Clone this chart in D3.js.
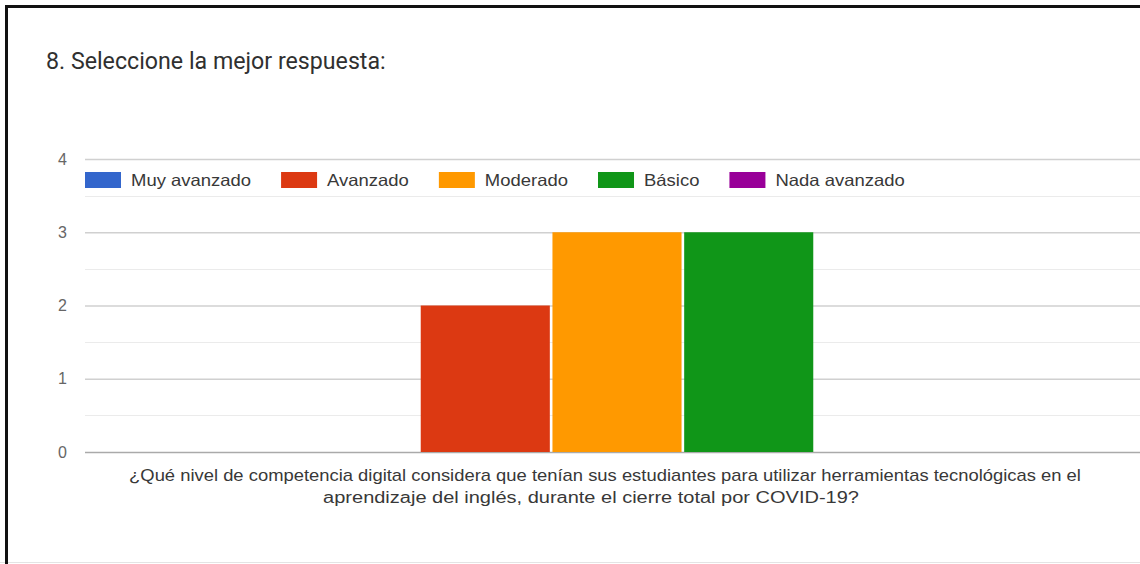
<!DOCTYPE html>
<html>
<head>
<meta charset="utf-8">
<script src="https://cdn.jsdelivr.net/npm/d3@7"></script>
<style>
  html, body { margin: 0; padding: 0; background: #fff; }
  svg { display: block; }
</style>
</head>
<body>
<svg id="chart" width="1140" height="564"></svg>
<script>
// Survey question 8: answer counts per competence level
const chartTitle = "8. Seleccione la mejor respuesta:";
const categories = ["¿Qué nivel de competencia digital considera que tenían sus estudiantes para utilizar herramientas tecnológicas en el aprendizaje del inglés, durante el cierre total por COVID-19?"];
const categoryLines = [
  "¿Qué nivel de competencia digital considera que tenían sus estudiantes para utilizar herramientas tecnológicas en el",
  "aprendizaje del inglés, durante el cierre total por COVID-19?"
];
const seriesNames = ["Muy avanzado", "Avanzado", "Moderado", "Básico", "Nada avanzado"];
const seriesValues = [0, 2, 3, 3, 0];
const seriesColors = ["#3366cc", "#dc3912", "#ff9900", "#109618", "#990099"];
const yTicks = [0, 1, 2, 3, 4];

const svg = d3.select("#chart");
const W = 1140, H = 564;
const font = "'Liberation Sans', Arial, sans-serif";
const stretch = 1.12; // horizontal widening of the text glyphs

svg.append("rect").attr("width", W).attr("height", H).attr("fill", "#fff");

// card frame (left and top edges, plus faint bottom edge)
svg.append("line").attr("x1", 0).attr("x2", W).attr("y1", H - 1.5).attr("y2", H - 1.5)
  .attr("stroke", "#e4e4e4").attr("stroke-width", 1);
svg.append("path")
  .attr("d", `M6.5,${H} L6.5,6.5 L${W + 5},6.5`)
  .attr("fill", "none").attr("stroke", "#111").attr("stroke-width", 3);

// title
svg.append("text")
  .attr("x", 46).attr("y", 69)
  .attr("font-family", "Roboto, 'Liberation Sans', Arial, sans-serif")
  .attr("font-size", 23.2)
  .attr("fill", "#303030")
  .text(chartTitle);

const plot = { left: 85, right: 1149, top: 159, bottom: 452 };

const y = d3.scaleLinear().domain([0, 4]).range([plot.bottom, plot.top]);

const x0 = d3.scaleBand()
  .domain(categories)
  .range([plot.left, plot.right])
  .paddingOuter(0.311)
  .paddingInner(0);

const x1 = d3.scaleBand()
  .domain(seriesNames)
  .range([0, x0.bandwidth()])
  .paddingInner(0.02)
  .paddingOuter(0);

// gridlines: minor at halves, major at integers
const minor = d3.range(0.5, 4, 1);
svg.append("g").selectAll("line").data(minor).join("line")
  .attr("x1", plot.left).attr("x2", plot.right)
  .attr("y1", d => Math.round(y(d)) + 0.5).attr("y2", d => Math.round(y(d)) + 0.5)
  .attr("stroke", "#ebebeb").attr("stroke-width", 1);

const yAxis = d3.axisLeft(y).tickValues(yTicks).tickSize(-(plot.right - plot.left)).tickPadding(18)
  .tickFormat(d3.format("d"));
const gy = svg.append("g").attr("transform", `translate(${plot.left},0)`).call(yAxis);
gy.select(".domain").remove();
gy.selectAll(".tick line")
  .attr("stroke", d => d === 0 ? "#aaa" : "#d0d0d0")
  .attr("stroke-width", 1.5);
gy.selectAll(".tick text")
  .attr("font-family", font).attr("font-size", 16)
  .attr("fill", "#666");

// bars
const group = svg.append("g");
categories.forEach((cat) => {
  group.selectAll("rect").data(seriesNames.map((s, i) => ({ s, v: seriesValues[i], c: seriesColors[i] })))
    .join("rect")
    .attr("x", d => x0(cat) + x1(d.s))
    .attr("width", x1.bandwidth())
    .attr("y", d => y(d.v))
    .attr("height", d => y(0) - y(d.v))
    .attr("fill", d => d.c);
});

// category label (wrapped over two lines)
const lineLayout = [
  { cx: 605, sx: 1.15, y: 481 },
  { cx: 591, sx: 1.25, y: 503 }
];
categoryLines.forEach((line, i) => {
  const L = lineLayout[i];
  svg.append("text")
    .attr("transform", `translate(${L.cx},${L.y}) scale(${L.sx},1)`)
    .attr("font-family", font).attr("font-size", 16).attr("fill", "#383838")
    .attr("text-anchor", "middle")
    .text(line);
});

// legend
const legend = svg.append("g");
let lx = 85;
seriesNames.forEach((name, i) => {
  legend.append("rect")
    .attr("x", lx).attr("y", 172).attr("width", 36).attr("height", 16)
    .attr("fill", seriesColors[i]);
  const t = legend.append("text")
    .attr("transform", `translate(${lx + 46},186) scale(${stretch},1)`)
    .attr("font-family", font).attr("font-size", 16.5).attr("fill", "#383838")
    .text(name);
  lx += 46 + t.node().getComputedTextLength() * stretch + 30;
});
</script>
</body>
</html>
